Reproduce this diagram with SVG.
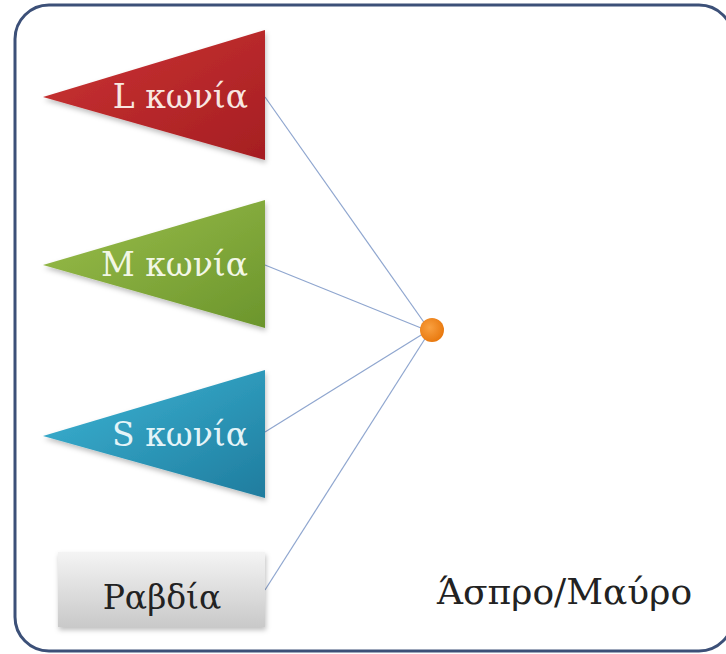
<svg xmlns="http://www.w3.org/2000/svg" width="726" height="654" viewBox="0 0 726 654">
<defs>
<linearGradient id="gRed" x1="0" y1="0" x2="1" y2="1"><stop offset="0" stop-color="#cc3434"/><stop offset="1" stop-color="#a51e22"/></linearGradient>
<linearGradient id="gGreen" x1="0" y1="0" x2="1" y2="1"><stop offset="0" stop-color="#9cbf4c"/><stop offset="1" stop-color="#6b952c"/></linearGradient>
<linearGradient id="gBlue" x1="0" y1="0" x2="1" y2="1"><stop offset="0" stop-color="#3db6d6"/><stop offset="1" stop-color="#1f7c9e"/></linearGradient>
<linearGradient id="gGray" x1="0" y1="0" x2="0" y2="1"><stop offset="0" stop-color="#f4f4f4"/><stop offset="1" stop-color="#c9c9c9"/></linearGradient>
<radialGradient id="gDot" cx="0.4" cy="0.4" r="0.6"><stop offset="0" stop-color="#f9a040"/><stop offset="1" stop-color="#e97a10"/></radialGradient>
<filter id="sh" x="-10%" y="-10%" width="130%" height="130%"><feDropShadow dx="1" dy="3" stdDeviation="2.5" flood-color="#000" flood-opacity="0.25"/></filter>
</defs>
<style>
.lbl{font-family:"DejaVu Serif","Liberation Serif",serif;font-size:33px}
.cap{font-family:"DejaVu Serif","Liberation Serif",serif;font-size:36px}
.conn{stroke:#8fa6cf;stroke-width:1.2;fill:none}
</style>
<rect x="15" y="5" width="718" height="646" rx="34" ry="34" fill="#fff" stroke="#3c5078" stroke-width="3"/>
<g id="connectors">
<line class="conn" x1="265" y1="97" x2="428" y2="328"/>
<line class="conn" x1="265" y1="265" x2="426" y2="330"/>
<line class="conn" x1="265" y1="432" x2="426" y2="332"/>
<line class="conn" x1="265" y1="590" x2="428" y2="334"/>
</g>
<g id="nodeL">
<polygon points="43,97 265,30 265,160" fill="url(#gRed)" filter="url(#sh)"/>
<text class="lbl" x="248" y="108" text-anchor="end" fill="#f8e8e2">L κωνία</text>
</g>
<g id="nodeM">
<polygon points="43,265 265,200 265,328" fill="url(#gGreen)" filter="url(#sh)"/>
<text class="lbl" x="248" y="276" text-anchor="end" fill="#f2f7e6">M κωνία</text>
</g>
<g id="nodeS">
<polygon points="43,436 265,370 265,498" fill="url(#gBlue)" filter="url(#sh)"/>
<text class="lbl" x="248" y="446" text-anchor="end" fill="#e4f4f8">S κωνία</text>
</g>
<g id="nodeR">
<rect x="58" y="552" width="207" height="75" fill="url(#gGray)" filter="url(#sh)"/>
<text class="lbl" x="162" y="609" text-anchor="middle" fill="#222">Ραβδία</text>
</g>
<g id="dot">
<circle cx="432" cy="330" r="12" fill="url(#gDot)"/>
</g>
<g id="caption">
<text class="cap" x="437" y="604" fill="#222">Άσπρο/Μαύρο</text>
</g>
</svg>
